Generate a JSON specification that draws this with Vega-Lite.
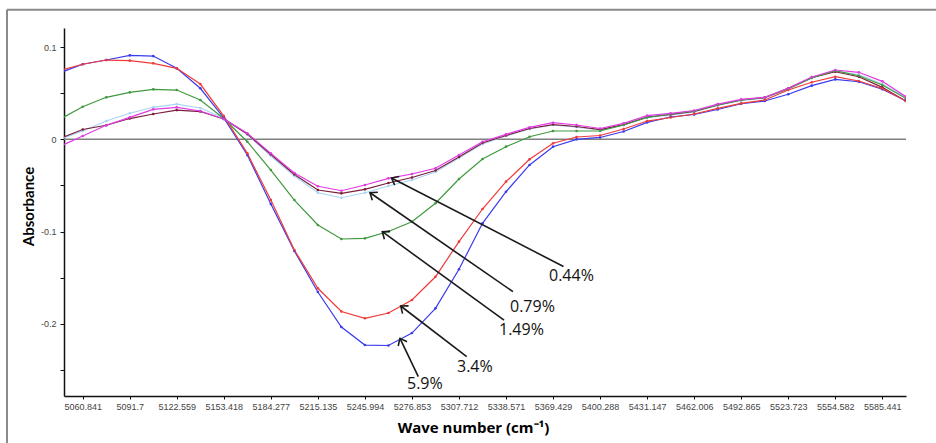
{
  "$schema": "https://vega.github.io/schema/vega-lite/v6.json",
  "width": 842,
  "height": 368,
  "autosize": {"type": "none"},
  "padding": {"left": 64, "top": 28, "right": 30, "bottom": 47},
  "background": "white",
  "data": {"values": [{}]},
  "config": {
    "view": {"stroke": null},
    "axis": {
      "grid": false,
      "domainColor": "#111111",
      "domainWidth": 1.5,
      "tickColor": "#111111",
      "tickWidth": 1,
      "labelColor": "#444444",
      "labelFont": "Liberation Sans",
      "labelFontSize": 9,
      "titleColor": "#000000"
    }
  },
  "datasets": {
    "spectra": [
      {"wn": 5045.411, "lb": -0.0002, "mr": 0.0005, "g149": 0.0213, "b59": 0.0718, "r34": 0.0742, "mg": -0.0080},
      {"wn": 5060.841, "lb": 0.0090, "mr": 0.0106, "g149": 0.0353, "b59": 0.0813, "r34": 0.0813, "mg": 0.0036},
      {"wn": 5076.270, "lb": 0.0198, "mr": 0.0152, "g149": 0.0455, "b59": 0.0859, "r34": 0.0859, "mg": 0.0152},
      {"wn": 5091.700, "lb": 0.0282, "mr": 0.0225, "g149": 0.0509, "b59": 0.0910, "r34": 0.0852, "mg": 0.0238},
      {"wn": 5107.129, "lb": 0.0347, "mr": 0.0274, "g149": 0.0542, "b59": 0.0902, "r34": 0.0823, "mg": 0.0325},
      {"wn": 5122.559, "lb": 0.0382, "mr": 0.0317, "g149": 0.0534, "b59": 0.0769, "r34": 0.0769, "mg": 0.0347},
      {"wn": 5137.988, "lb": 0.0339, "mr": 0.0301, "g149": 0.0426, "b59": 0.0553, "r34": 0.0599, "mg": 0.0307},
      {"wn": 5153.418, "lb": 0.0231, "mr": 0.0220, "g149": 0.0225, "b59": 0.0231, "r34": 0.0252, "mg": 0.0220},
      {"wn": 5168.847, "lb": 0.0052, "mr": 0.0057, "g149": -0.0026, "b59": -0.0170, "r34": -0.0152, "mg": 0.0065},
      {"wn": 5184.277, "lb": -0.0181, "mr": -0.0165, "g149": -0.0333, "b59": -0.0701, "r34": -0.0658, "mg": -0.0152},
      {"wn": 5199.706, "lb": -0.0398, "mr": -0.0381, "g149": -0.0658, "b59": -0.1210, "r34": -0.1199, "mg": -0.0365},
      {"wn": 5215.135, "lb": -0.0579, "mr": -0.0549, "g149": -0.0928, "b59": -0.1654, "r34": -0.1614, "mg": -0.0509},
      {"wn": 5230.565, "lb": -0.0633, "mr": -0.0585, "g149": -0.1080, "b59": -0.2034, "r34": -0.1866, "mg": -0.0557},
      {"wn": 5245.994, "lb": -0.0579, "mr": -0.0542, "g149": -0.1073, "b59": -0.2229, "r34": -0.1939, "mg": -0.0495},
      {"wn": 5261.424, "lb": -0.0506, "mr": -0.0473, "g149": -0.0999, "b59": -0.2234, "r34": -0.1882, "mg": -0.0423},
      {"wn": 5276.853, "lb": -0.0441, "mr": -0.0414, "g149": -0.0893, "b59": -0.2099, "r34": -0.1741, "mg": -0.0376},
      {"wn": 5292.283, "lb": -0.0354, "mr": -0.0338, "g149": -0.0693, "b59": -0.1831, "r34": -0.1489, "mg": -0.0314},
      {"wn": 5307.712, "lb": -0.0203, "mr": -0.0192, "g149": -0.0430, "b59": -0.1408, "r34": -0.1109, "mg": -0.0170},
      {"wn": 5323.141, "lb": -0.0051, "mr": -0.0040, "g149": -0.0213, "b59": -0.0910, "r34": -0.0755, "mg": -0.0026},
      {"wn": 5338.571, "lb": 0.0036, "mr": 0.0041, "g149": -0.0080, "b59": -0.0568, "r34": -0.0459, "mg": 0.0054},
      {"wn": 5354.000, "lb": 0.0112, "mr": 0.0117, "g149": 0.0028, "b59": -0.0278, "r34": -0.0217, "mg": 0.0130},
      {"wn": 5369.429, "lb": 0.0155, "mr": 0.0160, "g149": 0.0090, "b59": -0.0080, "r34": -0.0043, "mg": 0.0180},
      {"wn": 5384.859, "lb": 0.0133, "mr": 0.0139, "g149": 0.0090, "b59": 0.0000, "r34": 0.0025, "mg": 0.0155},
      {"wn": 5400.288, "lb": 0.0101, "mr": 0.0106, "g149": 0.0090, "b59": 0.0020, "r34": 0.0041, "mg": 0.0117},
      {"wn": 5415.718, "lb": 0.0155, "mr": 0.0160, "g149": 0.0155, "b59": 0.0085, "r34": 0.0112, "mg": 0.0173},
      {"wn": 5431.147, "lb": 0.0236, "mr": 0.0242, "g149": 0.0236, "b59": 0.0184, "r34": 0.0198, "mg": 0.0256},
      {"wn": 5446.577, "lb": 0.0263, "mr": 0.0269, "g149": 0.0274, "b59": 0.0242, "r34": 0.0236, "mg": 0.0282},
      {"wn": 5462.006, "lb": 0.0296, "mr": 0.0301, "g149": 0.0307, "b59": 0.0269, "r34": 0.0274, "mg": 0.0312},
      {"wn": 5477.435, "lb": 0.0366, "mr": 0.0372, "g149": 0.0372, "b59": 0.0323, "r34": 0.0336, "mg": 0.0382},
      {"wn": 5492.865, "lb": 0.0420, "mr": 0.0426, "g149": 0.0426, "b59": 0.0385, "r34": 0.0390, "mg": 0.0433},
      {"wn": 5508.294, "lb": 0.0447, "mr": 0.0453, "g149": 0.0453, "b59": 0.0415, "r34": 0.0426, "mg": 0.0455},
      {"wn": 5523.723, "lb": 0.0545, "mr": 0.0553, "g149": 0.0545, "b59": 0.0488, "r34": 0.0534, "mg": 0.0553},
      {"wn": 5539.153, "lb": 0.0670, "mr": 0.0667, "g149": 0.0664, "b59": 0.0581, "r34": 0.0618, "mg": 0.0675},
      {"wn": 5554.582, "lb": 0.0740, "mr": 0.0732, "g149": 0.0743, "b59": 0.0650, "r34": 0.0678, "mg": 0.0751},
      {"wn": 5570.012, "lb": 0.0702, "mr": 0.0678, "g149": 0.0689, "b59": 0.0624, "r34": 0.0632, "mg": 0.0726},
      {"wn": 5585.441, "lb": 0.0599, "mr": 0.0563, "g149": 0.0588, "b59": 0.0542, "r34": 0.0550, "mg": 0.0628},
      {"wn": 5600.870, "lb": 0.0453, "mr": 0.0415, "g149": 0.0444, "b59": 0.0418, "r34": 0.0418, "mg": 0.0462}
    ],
    "notes": [
      {"label": "0.44%", "tipWn": 5263.44, "tipA": -0.0419, "tailWn": 5376.28, "tailA": -0.1378, "textWn": 5366.77, "textA": -0.1481},
      {"label": "0.79%", "tipWn": 5249.33, "tipA": -0.0579, "tailWn": 5343.15, "tailA": -0.1651, "textWn": 5341.18, "textA": -0.1817},
      {"label": "1.49%", "tipWn": 5257.40, "tipA": -0.1001, "tailWn": 5337.25, "tailA": -0.1958, "textWn": 5333.97, "textA": -0.2066},
      {"label": "3.4%", "tipWn": 5269.47, "tipA": -0.1806, "tailWn": 5312.77, "tailA": -0.2355, "textWn": 5306.41, "textA": -0.2464},
      {"label": "5.9%", "tipWn": 5269.01, "tipA": -0.2156, "tailWn": 5281.02, "tailA": -0.2572, "textWn": 5273.61, "textA": -0.2654}
    ]
  },
  "layer": [
    {
      "description": "figure frame, left edge",
      "mark": {"type": "rule", "color": "#8a8a8a", "strokeWidth": 2, "clip": false},
      "encoding": {
        "x": {"datum": 5011.17, "type": "quantitative"},
        "y": {"datum": 0.1404, "type": "quantitative"},
        "y2": {"datum": -0.36}
      }
    },
    {
      "description": "figure frame, top edge",
      "mark": {"type": "rule", "color": "#8a8a8a", "strokeWidth": 2, "clip": false},
      "encoding": {
        "x": {"datum": 5011.17, "type": "quantitative"},
        "x2": {"datum": 5640},
        "y": {"datum": 0.1404, "type": "quantitative"}
      }
    },
    {
      "description": "zero baseline",
      "mark": {"type": "rule", "color": "#808080", "strokeWidth": 1.5},
      "encoding": {
        "y": {"datum": 0, "type": "quantitative"}
      }
    },
    {
      "data": {"name": "spectra"},
      "transform": [{"fold": ["lb", "mr", "g149", "b59", "r34", "mg"], "as": ["series", "A"]}],
      "layer": [
        {
          "mark": {"type": "line", "strokeWidth": 1.2, "clip": true},
          "encoding": {
            "x": {
              "field": "wn", "type": "quantitative",
              "scale": {"domain": [5048.57, 5600.99], "nice": false, "zero": false},
              "axis": {
                "title": "Wave number (cm⁻¹)",
                "titleFont": "Open Sans",
                "titleFontWeight": "bold",
                "titleFontSize": 15,
                "titleX": 409,
                "titlePadding": 9,
                "tickSize": 3,
                "labelPadding": 3,
                "values": [5060.841, 5076.270, 5091.700, 5107.129, 5122.559, 5137.988, 5153.418, 5168.847, 5184.277, 5199.706, 5215.135, 5230.565, 5245.994, 5261.424, 5276.853, 5292.283, 5307.712, 5323.141, 5338.571, 5354.000, 5369.429, 5384.859, 5400.288, 5415.718, 5431.147, 5446.577, 5462.006, 5477.435, 5492.865, 5508.294, 5523.723, 5539.153, 5554.582, 5570.012, 5585.441, 5600.870],
                "labelExpr": "indexof([5060.841, 5091.7, 5122.559, 5153.418, 5184.277, 5215.135, 5245.994, 5276.853, 5307.712, 5338.571, 5369.429, 5400.288, 5431.147, 5462.006, 5492.865, 5523.723, 5554.582, 5585.441], datum.value) >= 0 ? '' + datum.value : ''",
                "labelOverlap": false,
                "labelFlush": false
              }
            },
            "y": {
              "field": "A", "type": "quantitative",
              "scale": {"domain": [-0.2781, 0.1206], "nice": false, "zero": false},
              "axis": {
                "title": "Absorbance",
                "titleFont": "Lato",
                "titleFontWeight": "bold",
                "titleFontSize": 15,
                "titleY": 178,
                "titlePadding": 4,
                "tickSize": 4,
                "labelPadding": 4,
                "values": [0.1, 0.05, 0, -0.05, -0.1, -0.15, -0.2, -0.25],
                "labelExpr": "indexof([0.1, 0, -0.1, -0.2], datum.value) >= 0 ? '' + datum.value : ''",
                "labelOverlap": false
              }
            },
            "color": {
              "field": "series", "type": "nominal", "legend": null,
              "scale": {
                "domain": ["lb", "mr", "g149", "b59", "r34", "mg"],
                "range": ["#a9d6f5", "#7a1f3a", "#3f9a3f", "#3a3af0", "#f03a3a", "#e23be2"]
              }
            }
          }
        },
        {
          "mark": {"type": "point", "filled": true, "size": 7, "opacity": 1, "clip": true},
          "encoding": {
            "x": {"field": "wn", "type": "quantitative"},
            "y": {"field": "A", "type": "quantitative"},
            "color": {"field": "series", "type": "nominal", "legend": null}
          }
        }
      ]
    },
    {
      "data": {"name": "notes"},
      "transform": [
        {"calculate": "atan2((datum.tipWn - datum.tailWn) * 1.5242, (datum.tipA - datum.tailA) * 923) * 180 / PI", "as": "heading"}
      ],
      "layer": [
        {
          "mark": {"type": "rule", "color": "#1a1a1a", "strokeWidth": 1.6},
          "encoding": {
            "x": {"field": "tailWn", "type": "quantitative"},
            "y": {"field": "tailA", "type": "quantitative"},
            "x2": {"field": "tipWn"},
            "y2": {"field": "tipA"}
          }
        },
        {
          "mark": {"type": "point", "shape": "M-0.8,1L0,0L0.8,1", "filled": false, "stroke": "#1a1a1a", "strokeWidth": 1.6, "size": 150, "opacity": 1},
          "encoding": {
            "x": {"field": "tipWn", "type": "quantitative"},
            "y": {"field": "tipA", "type": "quantitative"},
            "angle": {"field": "heading", "type": "quantitative", "scale": null}
          }
        },
        {
          "mark": {"type": "text", "align": "left", "baseline": "middle", "font": "Open Sans", "fontSize": 16, "color": "#111111"},
          "encoding": {
            "x": {"field": "textWn", "type": "quantitative"},
            "y": {"field": "textA", "type": "quantitative"},
            "text": {"field": "label"}
          }
        }
      ]
    }
  ]
}
